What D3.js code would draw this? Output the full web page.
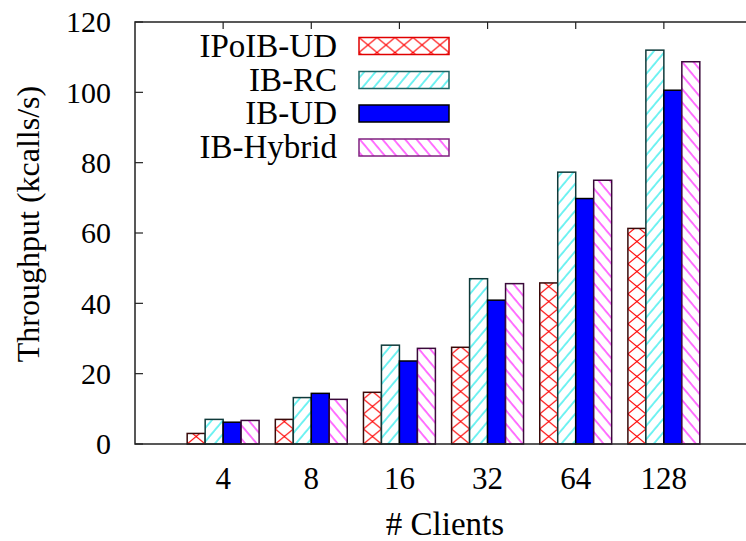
<!DOCTYPE html>
<html>
<head>
<meta charset="utf-8">
<script src="https://cdn.jsdelivr.net/npm/d3@7"></script>
<style>
  body { margin: 0; background: #fff; }
</style>
</head>
<body>
<div id="chart"></div>
<script>
const categories = ["4", "8", "16", "32", "64", "128"];
const seriesNames = ["IPoIB-UD", "IB-RC", "IB-UD", "IB-Hybrid"];
const ipoibUD = [3.0, 7.0, 14.7, 27.5, 45.8, 61.3];
const ibRC = [7.0, 13.2, 28.1, 47.0, 77.3, 112.0];
const ibUD = [6.2, 14.4, 23.6, 40.9, 69.8, 100.6];
const ibHybrid = [6.7, 12.7, 27.2, 45.6, 75.0, 108.7];
const yTicks = [0, 20, 40, 60, 80, 100, 120];

const seriesValues = [ipoibUD, ibRC, ibUD, ibHybrid];

const width = 746, height = 541;
const plotLeft = 135, plotTop = 22, plotBottom = 444;
const fontFamily = "'Liberation Serif', 'Times New Roman', Times, serif";

const svg = d3.select("#chart").append("svg")
    .attr("width", width)
    .attr("height", height)
    .style("display", "block")
    .attr("font-family", fontFamily);

const defs = svg.append("defs");

const x = d3.scaleLinear().domain([-1, 6]).range([plotLeft, 752]);
const y = d3.scaleLinear().domain([0, 120]).range([plotBottom, plotTop]);
const barW = 0.204; // in category units

// series styles: pattern kind, line colour, border colour
const styles = [
    { kind: "cross", color: "#ff0000", stroke: "#3a0a0a", legendStroke: "#e00000" },
    { kind: "fwd", color: "#00e8e8", stroke: "#0f3a3a", legendStroke: "#1d6464" },
    { kind: "solid", color: "#0000ff", stroke: "#000000", legendStroke: "#000000" },
    { kind: "back", color: "#ff00ff", stroke: "#3a0a3a", legendStroke: "#802080" }
];

function makePattern(id, st, ox, oy) {
    if (st.kind === "cross") {
        const p = defs.append("pattern")
            .attr("id", id)
            .attr("patternUnits", "userSpaceOnUse")
            .attr("x", ox).attr("y", oy)
            .attr("width", 18).attr("height", 15);
        p.append("rect").attr("width", 18).attr("height", 15).attr("fill", "#fff");
        p.append("path")
            .attr("d", "M0,0L18,15M18,0L0,15M-1,14L1,16M17,-1L19,1")
            .attr("stroke", st.color).attr("stroke-width", 1.1);
    } else if (st.kind === "fwd" || st.kind === "back") {
        const d = 8.7;
        const p = defs.append("pattern")
            .attr("id", id)
            .attr("patternUnits", "userSpaceOnUse")
            .attr("x", ox).attr("y", oy)
            .attr("width", d).attr("height", d)
            .attr("patternTransform", `rotate(${st.kind === "fwd" ? 40 : -40})`);
        p.append("rect").attr("width", d).attr("height", d).attr("fill", "#fff");
        p.append("line")
            .attr("x1", 1).attr("y1", -1).attr("x2", 1).attr("y2", d + 1)
            .attr("stroke", st.color).attr("stroke-width", 1.1);
    }
}

function fillFor(id, st) {
    return st.kind === "solid" ? st.color : `url(#${id})`;
}

// ticks behind bars
const tickG = svg.append("g").attr("stroke", "#222").attr("stroke-width", 1.2);
yTicks.forEach(t => {
    tickG.append("line")
        .attr("x1", plotLeft).attr("x2", plotLeft + 8)
        .attr("y1", y(t)).attr("y2", y(t));
});
categories.forEach((c, i) => {
    tickG.append("line")
        .attr("x1", x(i)).attr("x2", x(i))
        .attr("y1", plotTop).attr("y2", plotTop + 7);
    tickG.append("line")
        .attr("x1", x(i)).attr("x2", x(i))
        .attr("y1", plotBottom).attr("y2", plotBottom - 7);
});

// bars
seriesValues.forEach((vals, s) => {
    const st = styles[s];
    const g = svg.append("g");
    vals.forEach((v, i) => {
        const x0 = x(i + (s - 2) * barW);
        const x1 = x(i + (s - 1) * barW);
        const id = `pat-${s}-${i}`;
        makePattern(id, st, x0, plotBottom);
        g.append("rect")
            .attr("x", x0)
            .attr("y", y(v))
            .attr("width", x1 - x0)
            .attr("height", y(0) - y(v))
            .attr("fill", fillFor(id, st))
            .attr("stroke", st.stroke)
            .attr("stroke-width", 1.5);
    });
});

// border
svg.append("path")
    .attr("d", `M${width + 2},${plotTop}H${plotLeft}V${plotBottom}H${width + 2}`)
    .attr("fill", "none")
    .attr("stroke", "#222")
    .attr("stroke-width", 1.5);

// y tick labels
svg.append("g").selectAll("text")
    .data(yTicks)
    .join("text")
    .attr("x", 111)
    .attr("y", d => y(d))
    .attr("dy", "0.34em")
    .attr("text-anchor", "end")
    .attr("font-family", fontFamily)
    .attr("font-size", 30)
    .text(d => d);

// x tick labels
svg.append("g").selectAll("text")
    .data(categories)
    .join("text")
    .attr("x", (d, i) => x(i))
    .attr("y", 489)
    .attr("text-anchor", "middle")
    .attr("font-family", fontFamily)
    .attr("font-size", 31)
    .text(d => d);

// axis titles
svg.append("text")
    .attr("transform", "translate(39,224) rotate(-90)")
    .attr("text-anchor", "middle")
    .attr("font-family", fontFamily)
    .attr("font-size", 32)
    .text("Throughput (kcalls/s)");

svg.append("text")
    .attr("x", 445)
    .attr("y", 535)
    .attr("text-anchor", "middle")
    .attr("font-family", fontFamily)
    .attr("font-size", 33)
    .text("# Clients");

// legend
const legendY = [46, 80, 113.5, 147.5];
seriesNames.forEach((name, s) => {
    const st = styles[s];
    const cy = legendY[s];
    const id = `pat-leg-${s}`;
    makePattern(id, st, 359, cy - 8.5);
    svg.append("rect")
        .attr("x", 359)
        .attr("y", cy - 8.5)
        .attr("width", 90)
        .attr("height", 17)
        .attr("fill", fillFor(id, st))
        .attr("stroke", st.legendStroke)
        .attr("stroke-width", 1.5);
    svg.append("text")
        .attr("x", 337)
        .attr("y", cy + 10.5)
        .attr("text-anchor", "end")
        .attr("font-family", fontFamily)
        .attr("font-size", 33)
        .text(name);
});
</script>
</body>
</html>
